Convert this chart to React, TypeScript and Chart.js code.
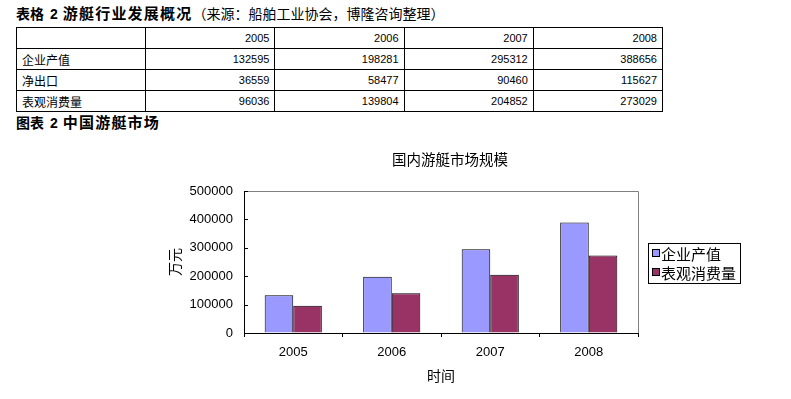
import React, { useEffect, useRef } from "react";
import { Chart, registerables } from "chart.js";

Chart.register(...registerables);

const years = ["2005", "2006", "2007", "2008"];
const rowNames = ["企业产值", "净出口", "表观消费量"];
const outputValue = [132595, 198281, 295312, 388656];
const netExport = [36559, 58477, 90460, 115627];
const consumption = [96036, 139804, 204852, 273029];
const seriesNames = ["企业产值", "表观消费量"];
const seriesColors = ["#9999FF", "#993366"];
const yTicks = [0, 100000, 200000, 300000, 400000, 500000];

const tableTitleParts = ["表格", "2", "游艇行业发展概况"];
const tableTitleNormal = "（来源：船舶工业协会，博隆咨询整理）";
const figureTitleParts = ["图表", "2", "中国游艇市场"];
const chartTitle = "国内游艇市场规模";
const xTitle = "时间";
const yTitle = "万元";

const FONT = "'Liberation Sans', 'Noto Sans CJK SC', sans-serif";
const CJK = "'Noto Sans CJK SC', 'Liberation Sans', sans-serif";

const decorPlugin = {
  id: "decor",
  afterDraw(chart: any) {
    const ctx = chart.ctx;
    const { left, right, top, bottom } = chart.chartArea;
    const ys = chart.scales.y;
    ctx.save();
    ctx.strokeStyle = "#808080";
    ctx.lineWidth = 1;
    ctx.beginPath();
    ctx.moveTo(left, top + 0.5);
    ctx.lineTo(Math.round(right) + 0.5, top + 0.5);
    ctx.lineTo(Math.round(right) + 0.5, bottom);
    ctx.stroke();
    ctx.strokeStyle = "#000";
    ctx.beginPath();
    yTicks.forEach((v) => {
      const py = Math.round(ys.getPixelForValue(v)) + 0.5;
      ctx.moveTo(left, py);
      ctx.lineTo(left + 4, py);
    });
    ctx.stroke();
    ctx.fillStyle = "#000";
    ctx.font = `14.5px ${CJK}`;
    ctx.textAlign = "center";
    ctx.textBaseline = "middle";
    ctx.fillText(chartTitle, 450, 24);
    const lx = 648, ly = 108, lw = 92, lh = 40;
    ctx.strokeStyle = "#000";
    ctx.strokeRect(lx + 0.5, ly + 0.5, lw, lh);
    ctx.font = `15px ${CJK}`;
    ctx.textAlign = "left";
    chart.data.datasets.forEach((ds: any, i: number) => {
      const cy = ly + 10 + i * 19;
      ctx.fillStyle = ds.backgroundColor;
      ctx.fillRect(652.5, cy - 3.5, 7, 7);
      ctx.strokeStyle = "#000";
      ctx.strokeRect(652.5, cy - 3.5, 7, 7);
      ctx.fillStyle = "#000";
      ctx.fillText(ds.label, 661, cy + 1);
    });
    ctx.restore();
  },
};

function BarChart() {
  const ref = useRef<HTMLCanvasElement>(null);
  useEffect(() => {
    if (!ref.current) return;
    const chart = new Chart(ref.current, {
      type: "bar",
      data: {
        labels: years,
        datasets: [
          {
            label: seriesNames[0],
            data: outputValue,
            backgroundColor: seriesColors[0],
            borderColor: "#000",
            borderWidth: 1,
            categoryPercentage: 0.58,
            barPercentage: 1,
          },
          {
            label: seriesNames[1],
            data: consumption,
            backgroundColor: seriesColors[1],
            borderColor: "#000",
            borderWidth: 1,
            categoryPercentage: 0.58,
            barPercentage: 1,
          },
        ],
      },
      options: {
        responsive: false,
        animation: false,
        layout: { padding: { left: 160, right: 153, top: 56, bottom: 0 } },
        plugins: {
          legend: { display: false },
          title: { display: false },
          tooltip: { enabled: false },
        },
        scales: {
          x: {
            afterFit: (s: any) => {
              s.height = 66;
            },
            grid: {
              drawOnChartArea: false,
              drawTicks: true,
              tickLength: 4,
              color: "#000",
              offset: true,
            },
            border: { display: true, color: "#000", width: 1 },
            ticks: { color: "#000", font: { family: FONT, size: 13 }, padding: 8 },
            title: {
              display: true,
              text: xTitle,
              color: "#000",
              font: { family: CJK, size: 14 },
              padding: { top: 0, bottom: 14.6 },
            },
          },
          y: {
            min: 0,
            max: 500000,
            afterFit: (s: any) => {
              s.width = 84;
            },
            afterBuildTicks: (s: any) => {
              s.ticks = yTicks.map((v) => ({ value: v }));
            },
            grid: { drawOnChartArea: false, drawTicks: false },
            border: { display: true, color: "#000", width: 1 },
            ticks: {
              color: "#000",
              font: { family: FONT, size: 13 },
              padding: 11,
              callback: (v: any) => String(v),
            },
            title: {
              display: true,
              text: yTitle,
              color: "#000",
              font: { family: CJK, size: 14 },
              padding: { top: 6.6, bottom: 0 },
            },
          },
        },
      },
      plugins: [decorPlugin],
    });
    return () => chart.destroy();
  }, []);
  return <canvas ref={ref} width={791} height={264} style={{ position: "absolute", left: 0, top: 135 }} />;
}

const rows = [outputValue, netExport, consumption];

function Heading({ parts, top, normal }: { parts: string[]; top: number; normal?: string }) {
  return (
    <div
      style={{
        position: "absolute",
        left: 16,
        top,
        lineHeight: "16px",
        fontFamily: CJK,
        whiteSpace: "nowrap",
        fontWeight: "bold",
        fontSize: 14,
      }}
    >
      <span>{parts[0]}</span>
      <span style={{ marginLeft: 6, fontFamily: FONT }}>{parts[1]}</span>
      <span style={{ marginLeft: 5, fontSize: 15, letterSpacing: "1.2px" }}>{parts[2]}</span>
      {normal ? <span style={{ fontWeight: "normal", fontSize: 14 }}>{normal}</span> : null}
    </div>
  );
}

export default function App() {
  const cell: React.CSSProperties = {
    border: "1px solid #000",
    height: 20,
    padding: "0 5px",
    boxSizing: "border-box",
  };
  const num: React.CSSProperties = { ...cell, textAlign: "right", fontFamily: FONT, fontSize: 11 };
  const lab: React.CSSProperties = { ...cell, textAlign: "left", fontFamily: CJK, fontSize: 12 };
  return (
    <div style={{ position: "absolute", left: 0, top: 0, width: 791, height: 399, background: "#fff", overflow: "hidden" }}>
      <Heading parts={tableTitleParts} top={5} normal={tableTitleNormal} />
      <table
        style={{
          position: "absolute",
          left: 16,
          top: 27,
          width: 647,
          borderCollapse: "collapse",
          tableLayout: "fixed",
        }}
      >
        <tbody>
          <tr style={{ height: 21 }}>
            <td style={lab}></td>
            {years.map((y) => (
              <td key={y} style={num}>{y}</td>
            ))}
          </tr>
          {rows.map((r, i) => (
            <tr key={i} style={{ height: 21 }}>
              <td style={lab}>{rowNames[i]}</td>
              {r.map((v, j) => (
                <td key={j} style={num}>{v}</td>
              ))}
            </tr>
          ))}
        </tbody>
      </table>
      <Heading parts={figureTitleParts} top={114} />
      <BarChart />
    </div>
  );
}
